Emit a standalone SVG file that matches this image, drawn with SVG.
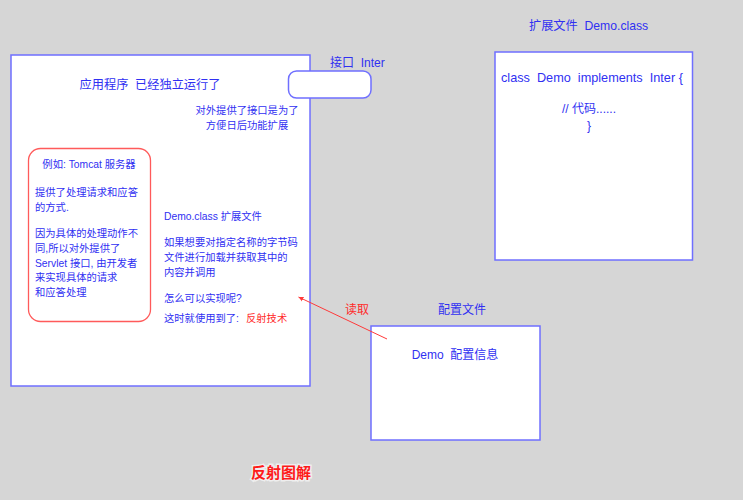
<svg xmlns="http://www.w3.org/2000/svg" width="743" height="500" viewBox="0 0 743 500" xml:space="preserve">
<style>
.box{fill:#fff;stroke:#6f6fff;stroke-width:1.5}
.t{font-family:"Liberation Sans","Noto Sans CJK SC",sans-serif;fill:#3030f2;white-space:pre}
.s10{font-size:10.3px}
.s12{font-size:12px}
.red{fill:#ff2a2a}
</style>
<defs>
<marker id="ah" markerWidth="6" markerHeight="6" refX="5" refY="3" orient="auto" markerUnits="userSpaceOnUse">
<path d="M0,0.5 L5,3 L0,5.5 z" fill="#ff3a3a"/>
</marker>
</defs>
<rect width="743" height="500" fill="#d6d6d6"/>

<g id="app">
<rect class="box" x="11" y="55" width="299" height="331"/>
<text class="t" font-size="12.2" x="150" y="89" text-anchor="middle">应用程序  已经独立运行了</text>
<text class="t s10" x="247" y="114" text-anchor="middle">对外提供了接口是为了</text>
<text class="t s10" x="247" y="129" text-anchor="middle">方便日后功能扩展</text>
<text class="t s10" x="164" y="220">Demo.class 扩展文件</text>
<text class="t s10" x="164" y="246">如果想要对指定名称的字节码</text>
<text class="t s10" x="164" y="261">文件进行加载并获取其中的</text>
<text class="t s10" x="164" y="276">内容并调用</text>
<text class="t s10" x="164" y="302">怎么可以实现呢?</text>
<text class="t s10" x="164" y="322">这时就使用到了:</text>
<text class="t s10 red" x="246" y="322">反射技术</text>
</g>

<g id="tomcat">
<rect x="28.5" y="148.5" width="122" height="173" rx="12" fill="#fff" stroke="#ff5a5a" stroke-width="1.3"/>
<text class="t s10" x="89" y="168" text-anchor="middle">例如: Tomcat 服务器</text>
<text class="t s10" x="35" y="196">提供了处理请求和应答</text>
<text class="t s10" x="35" y="211">的方式.</text>
<text class="t s10" x="35" y="237">因为具体的处理动作不</text>
<text class="t s10" x="35" y="252">同,所以对外提供了</text>
<text class="t s10" x="35" y="267">Servlet 接口, 由开发者</text>
<text class="t s10" x="35" y="281">来实现具体的请求</text>
<text class="t s10" x="35" y="296">和应答处理</text>
</g>

<g id="inter">
<rect class="box" x="288.5" y="71" width="82.5" height="27" rx="8"/>
<text class="t s12" x="330" y="67">接口  Inter</text>
</g>

<g id="demo">
<rect class="box" x="495" y="52" width="197.5" height="208"/>
<text class="t" font-size="12.2" x="529" y="30">扩展文件  Demo.class</text>
<text class="t" font-size="12.7" x="501" y="82">class  Demo  implements  Inter {</text>
<text class="t s12" x="589" y="113" text-anchor="middle">// 代码......</text>
<text class="t s12" x="589" y="130" text-anchor="middle">}</text>
</g>

<g id="config">
<rect class="box" x="371" y="326" width="169" height="114"/>
<text class="t s12" x="462" y="314" text-anchor="middle">配置文件</text>
<text class="t s12" x="455" y="359" text-anchor="middle">Demo  配置信息</text>
</g>

<g id="connectors">
<line x1="387" y1="339" x2="298.5" y2="297" stroke="#ff3a3a" stroke-width="1" marker-end="url(#ah)"/>
<text class="t s12 red" x="345" y="314">读取</text>
</g>

<g id="title">
<text x="251" y="478" font-family="'Liberation Sans','Noto Sans CJK SC',sans-serif" font-size="15" font-weight="bold" fill="#ff1a1a" stroke="#ffffff" stroke-width="3" stroke-opacity="0.6" paint-order="stroke">反射图解</text>
</g>
</svg>
